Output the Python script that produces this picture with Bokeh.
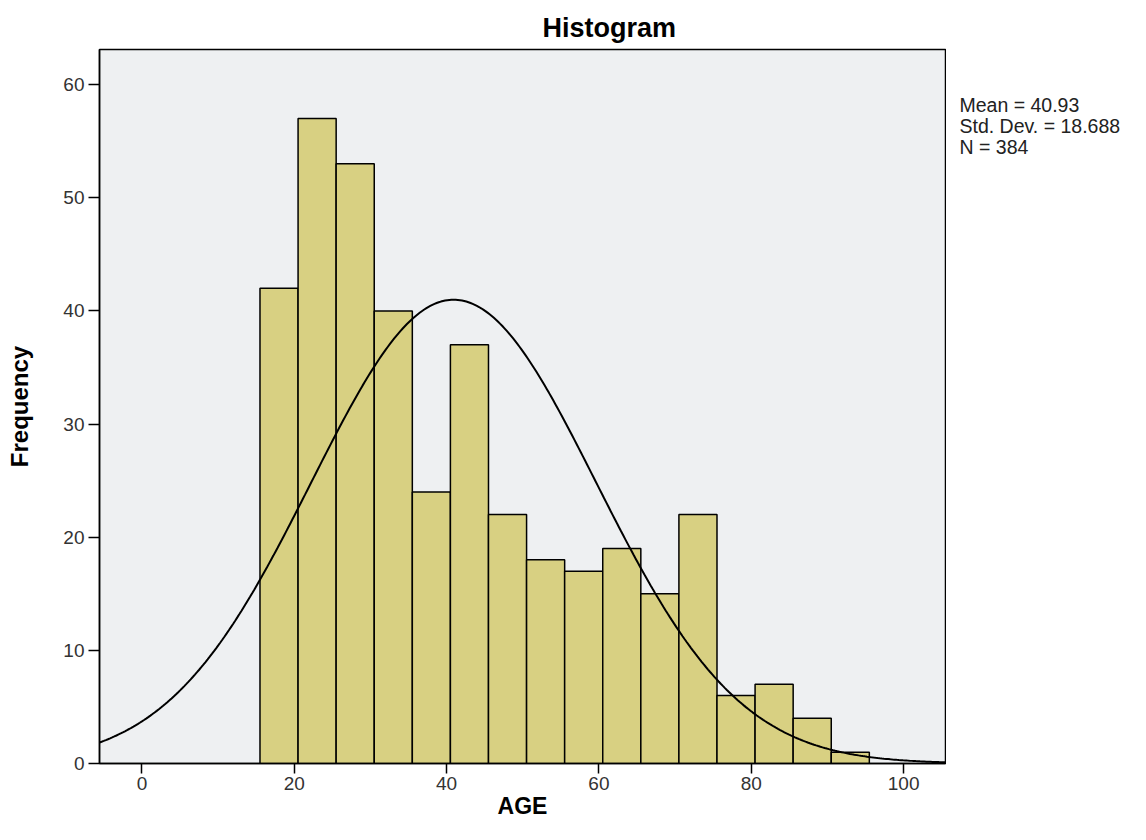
import numpy as np
from bokeh.plotting import figure
from bokeh.layouts import row
from bokeh.models import Range1d, SingleIntervalTicker, ColumnDataSource
from bokeh.core.properties import value
from bokeh.embed import file_html
from bokeh.resources import INLINE

# ---- data ----
bin_edges = [15.5, 20.5, 25.5, 30.5, 35.5, 40.5, 45.5, 50.5, 55.5, 60.5,
             65.5, 70.5, 75.5, 80.5, 85.5, 90.5, 95.5]
counts = [42, 57, 53, 40, 24, 37, 22, 18, 17, 19, 15, 22, 6, 7, 4, 1]
mean_age = 40.93
std_age = 18.688
n_total = 384
stats_lines = ["Mean = 40.93", "Std. Dev. = 18.688", "N = 384"]
title_text = "Histogram"
x_label = "AGE"
y_label = "Frequency"

FONT = "Liberation Sans"

# ---- main histogram figure ----
X0, X1 = -5.57, 105.5
Y0, Y1 = 0, 63.1
p = figure(width=946, height=824, output_backend="svg", toolbar_location=None,
           x_range=Range1d(X0, X1), y_range=Range1d(Y0, Y1),
           min_border_left=99, min_border_right=1, min_border_top=49,
           min_border_bottom=61, title=title_text)
p.background_fill_color = "#eef0f2"
p.border_fill_color = "white"
p.outline_line_color = "black"
p.outline_line_width = 1.5
p.xgrid.visible = False
p.ygrid.visible = False

p.title.align = "left"
p.title.offset = 443
p.title.standoff = 13
p.title.text_font = FONT
p.title.text_font_size = "27px"
p.title.text_font_style = "bold"
p.title.text_color = "black"

src = ColumnDataSource(dict(left=bin_edges[:-1], right=bin_edges[1:],
                            top=counts, bottom=[0] * len(counts)))
p.quad(left="left", right="right", top="top", bottom="bottom", source=src,
       fill_color="#d8d082", line_color="black", line_width=1.5)

bw = bin_edges[1] - bin_edges[0]
xs = np.linspace(X0, X1, 400)
ys = n_total * bw / (std_age * np.sqrt(2 * np.pi)) * np.exp(-0.5 * ((xs - mean_age) / std_age) ** 2)
p.line(xs, ys, line_color="black", line_width=2)

for ax, interval in ((p.xaxis, 20), (p.yaxis, 10)):
    ax.ticker = SingleIntervalTicker(interval=interval)
    ax.minor_tick_line_color = None
    ax.major_tick_in = 0
    ax.major_tick_line_color = "black"
    ax.major_tick_line_width = 1.5
    ax.axis_line_color = "black"
    ax.axis_line_width = 1.5
    ax.major_label_text_font = FONT
    ax.major_label_text_font_size = "19px"
    ax.major_label_text_color = "#333333"
    ax.axis_label_text_font = FONT
    ax.axis_label_text_font_style = "bold"
    ax.axis_label_text_color = "black"

p.xaxis.major_tick_out = 10
p.xaxis.major_label_standoff = 3
p.xaxis.axis_label = x_label
p.xaxis.axis_label_text_font_size = "23px"
p.xaxis.axis_label_standoff = 0

p.yaxis.major_tick_out = 11
p.yaxis.major_label_standoff = 4
p.yaxis.axis_label = y_label
p.yaxis.axis_label_text_font_size = "24px"
p.yaxis.axis_label_standoff = 27

# ---- statistics panel on the right ----
# its frame is aligned with the main frame (49..763 px from top); y is in px from top
PW = 184
s = figure(width=PW, height=824, output_backend="svg", toolbar_location=None,
           x_range=Range1d(0, PW), y_range=Range1d(763, 49),
           x_axis_location=None, y_axis_location=None, min_border=0)
s.outline_line_color = None
s.background_fill_color = "white"
s.border_fill_color = "white"
s.xgrid.visible = False
s.ygrid.visible = False
stats_src = ColumnDataSource(dict(x=[13] * len(stats_lines),
                                  y=[104 + 21 * i for i in range(len(stats_lines))],
                                  text=stats_lines))
s.text(x="x", y="y", text="text", source=stats_src, text_font=value(FONT),
       text_font_size=value("19.5px"), text_color="#222222",
       text_align="left", text_baseline="alphabetic")

layout = row(p, s)
open("out.html", "w").write(file_html(layout, INLINE))
